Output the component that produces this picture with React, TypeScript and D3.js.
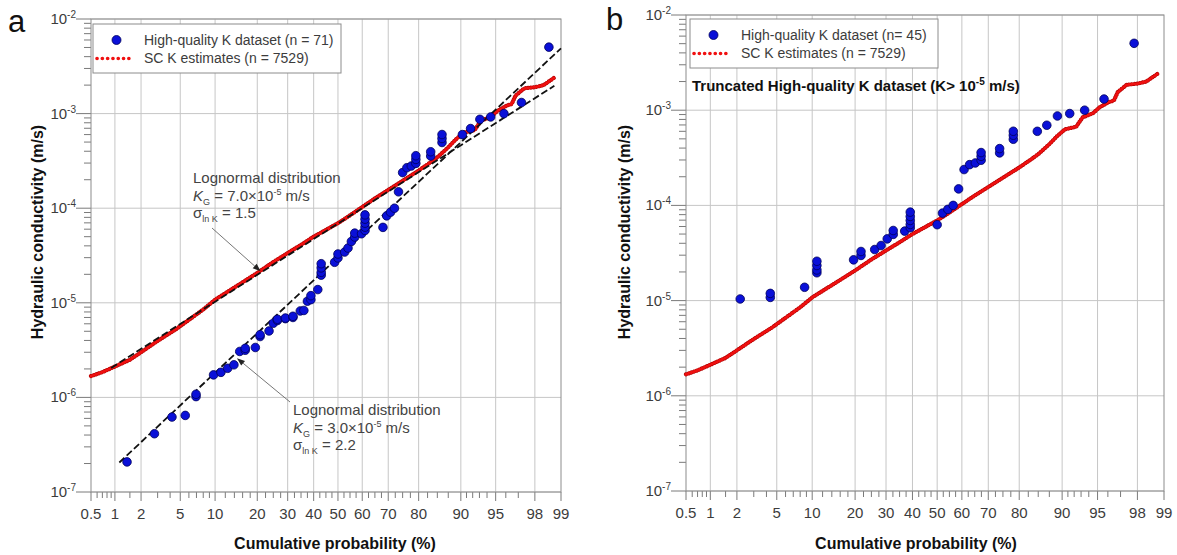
import React from 'react';
import * as d3 from 'd3';

// ---------- DATA ----------
// SC K estimates (n = 7529): cumulative probability (%) and K (m/s)
const scProb = [0.5, 0.7, 1, 1.5, 2, 3, 4.5, 6, 8, 10, 15, 20, 25, 30, 35, 40, 45, 50, 55, 60, 65, 70, 75, 80, 83, 85, 87.5, 89, 90.5, 92.3, 93.2, 94.5, 95.2, 96.1, 96.5, 96.8, 97.4, 98.0, 98.4, 98.8];
const scK = [1.68e-6, 1.85e-6, 2.12e-6, 2.5e-6, 3.0e-6, 3.95e-6, 5.2e-6, 6.6e-6, 8.5e-6, 1.08e-5, 1.55e-5, 2.07e-5, 2.7e-5, 3.36e-5, 4.1e-5, 5.0e-5, 5.9e-5, 6.95e-5, 8.4e-5, 1.03e-4, 1.27e-4, 1.56e-4, 1.95e-4, 2.5e-4, 3.0e-4, 3.45e-4, 4.4e-4, 5.3e-4, 6.3e-4, 6.7e-4, 8.4e-4, 9.3e-4, 1.07e-3, 1.22e-3, 1.26e-3, 1.55e-3, 1.85e-3, 1.9e-3, 2.0e-3, 2.4e-3];

// High-quality K dataset (n = 71), panel a
const hqProbA = [1.39, 2.78, 4.17, 5.56, 6.94, 6.94, 9.72, 11.11, 12.5, 13.89, 15.28, 16.67, 16.67, 19.44, 20.83, 20.83, 23.61, 25.0, 26.39, 26.39, 29.17, 29.17, 31.94, 31.94, 34.72, 36.11,
  37.5, 38.89, 38.89, 41.67, 43.06, 43.06, 43.06, 43.06, 48.61, 50.0, 50.0, 52.78, 54.17, 55.56, 56.94, 56.94, 59.72, 61.11, 61.11, 61.11, 61.11, 61.11, 68.06, 69.44, 70.83, 72.22, 73.61, 75.0, 76.39, 77.78, 79.17, 79.17, 79.17, 83.33, 83.33, 86.11, 86.11, 86.11, 90.28, 91.67, 93.06, 94.44, 95.83, 97.22, 98.61];
const hqKA = [2.08e-7, 4.13e-7, 6.2e-7, 6.45e-7, 1.02e-6, 1.08e-6, 1.73e-6, 1.84e-6, 2.03e-6, 2.21e-6, 3.06e-6, 3.15e-6, 3.3e-6, 3.37e-6, 4.4e-6, 4.6e-6, 5.04e-6, 6.08e-6, 6.5e-6, 6.7e-6, 6.8e-6, 6.9e-6, 7.0e-6, 7.2e-6, 8.2e-6, 8.3e-6,
  1.04e-5, 1.08e-5, 1.19e-5, 1.38e-5, 1.96e-5, 2.1e-5, 2.34e-5, 2.59e-5, 2.68e-5, 2.98e-5, 3.28e-5, 3.44e-5, 3.79e-5, 4.45e-5, 4.96e-5, 5.45e-5, 5.37e-5, 5.82e-5, 6.31e-5, 6.95e-5, 7.66e-5, 8.5e-5, 6.27e-5, 8.3e-5, 9.08e-5, 1.0e-4, 1.49e-4, 2.38e-4, 2.68e-4, 2.79e-4, 2.98e-4, 3.28e-4, 3.59e-4, 3.56e-4, 3.95e-4, 4.95e-4, 5.46e-4, 6.01e-4, 6.0e-4, 6.95e-4, 8.7e-4, 9.22e-4, 1.0e-3, 1.31e-3, 5.04e-3];

// Truncated high-quality K dataset (n = 45), panel b
const hqProbB = [2.17, 4.35, 4.35, 8.7, 10.87, 10.87, 10.87, 10.87, 19.57, 21.74, 21.74, 26.09, 28.26, 30.43, 32.61, 32.61, 36.96, 39.13, 39.13, 39.13, 39.13, 39.13, 50.0, 52.17, 54.35, 56.52, 58.7, 60.87, 63.04, 65.22, 67.39, 67.39, 67.39, 73.91, 73.91, 78.26, 78.26, 78.26, 84.78, 86.96, 89.13, 91.3, 93.48, 95.65, 97.83];
const hqKB = [1.04e-5, 1.08e-5, 1.19e-5, 1.38e-5, 1.96e-5, 2.1e-5, 2.34e-5, 2.59e-5, 2.68e-5, 2.98e-5, 3.28e-5, 3.44e-5, 3.79e-5, 4.45e-5, 4.96e-5, 5.45e-5, 5.37e-5, 5.82e-5, 6.31e-5, 6.95e-5, 7.66e-5, 8.5e-5, 6.27e-5, 8.3e-5, 9.08e-5, 1.0e-4, 1.49e-4, 2.38e-4, 2.68e-4, 2.79e-4, 2.98e-4, 3.28e-4, 3.59e-4, 3.56e-4, 3.95e-4, 4.95e-4, 5.46e-4, 6.01e-4, 6.0e-4, 6.95e-4, 8.7e-4, 9.22e-4, 1.0e-3, 1.31e-3, 5.04e-3];

// Fitted lognormal lines (end points: probability %, K)
const fitSCProb = [0.9, 98.8];
const fitSCK = [2.05e-6, 1.97e-3];
const fitHQProb = [1.13, 99.0];
const fitHQK = [2.05e-7, 4.9e-3];

// Axis ticks
const probTicks = [0.5, 1, 2, 5, 10, 20, 30, 40, 50, 60, 70, 80, 90, 95, 98, 99];
const probTickLabels = ['0.5', '1', '2', '5', '10', '20', '30', '40', '50', '60', '70', '80', '90', '95', '98', '99'];
const gridProbs = [1, 2, 5, 10, 20, 30, 40, 50, 60, 70, 80, 90, 95, 98];
const minorProbs = [0.6, 0.7, 0.8, 0.9, 1.5, 3, 4, 6, 7, 8, 9, 12, 14, 16, 18, 22.5, 25, 27.5, 32.5, 35, 37.5, 42.5, 45, 47.5, 52.5, 55, 57.5, 62.5, 65, 67.5, 72.5, 75, 77.5, 82.5, 85, 87.5, 91, 92, 93, 94, 96, 97];
const decadeExps = [-7, -6, -5, -4, -3, -2];
const minorMult = [2, 3, 4, 5, 6, 7, 8, 9];

// ---------- helpers ----------
function normInv(p: number): number {
  const a = [-3.969683028665376e1, 2.209460984245205e2, -2.759285104469687e2, 1.38357751867269e2, -3.066479806614716e1, 2.506628277459239];
  const b = [-5.447609879822406e1, 1.615858368580409e2, -1.556989798598866e2, 6.680131188771972e1, -1.328068155288572e1];
  const c = [-7.784894002430293e-3, -3.223964580411365e-1, -2.400758277161838, -2.549671665685823, 4.374664141464968, 2.938163982698783];
  const d = [7.784695709041462e-3, 3.224671290700398e-1, 2.445134137142996, 3.754408661907416];
  const pl = 0.02425;
  let q: number, r: number;
  if (p < pl) {
    q = Math.sqrt(-2 * Math.log(p));
    return (((((c[0] * q + c[1]) * q + c[2]) * q + c[3]) * q + c[4]) * q + c[5]) / ((((d[0] * q + d[1]) * q + d[2]) * q + d[3]) * q + 1);
  }
  if (p <= 1 - pl) {
    q = p - 0.5; r = q * q;
    return (((((a[0] * r + a[1]) * r + a[2]) * r + a[3]) * r + a[4]) * r + a[5]) * q / (((((b[0] * r + b[1]) * r + b[2]) * r + b[3]) * r + b[4]) * r + 1);
  }
  q = Math.sqrt(-2 * Math.log(1 - p));
  return -(((((c[0] * q + c[1]) * q + c[2]) * q + c[3]) * q + c[4]) * q + c[5]) / ((((d[0] * q + d[1]) * q + d[2]) * q + d[3]) * q + 1);
}

type Geom = { x0: number; x1: number; yTop: number; yBot: number };
const geomA: Geom = { x0: 91, x1: 561, yTop: 19, yBot: 492 };
const geomB: Geom = { x0: 686, x1: 1164, yTop: 15, yBot: 491 };

function makeScales(g: Geom) {
  const zx = d3.scaleLinear().domain([normInv(0.005), normInv(0.99)]).range([g.x0, g.x1]);
  const x = (p: number) => zx(normInv(p / 100));
  const y = d3.scaleLog().domain([1e-7, 1e-2]).range([g.yBot, g.yTop]);
  return { x, y };
}

const FONT = "'Liberation Sans', Arial, Helvetica, sans-serif";
const GRID = '#c6c6c6';
const FRAME = '#8c8c8c';
const TICK = '#7a7a7a';
const LABEL = '#3c3c3c';
const RED = '#f01010';
const BLUE = '#0a10d8';

function Axes({ g, xTitleX, yTitleX }: { g: Geom; xTitleX: number; yTitleX: number }) {
  const { x, y } = makeScales(g);
  return (
    <g>
      {gridProbs.map((p) => (
        <line key={'gx' + p} x1={x(p)} x2={x(p)} y1={g.yTop} y2={g.yBot} stroke={GRID} strokeWidth={1} />
      ))}
      {decadeExps.map((e) => (
        <line key={'gy' + e} x1={g.x0} x2={g.x1} y1={y(Math.pow(10, e))} y2={y(Math.pow(10, e))} stroke={GRID} strokeWidth={1} />
      ))}
      {/* x ticks below axis */}
      {probTicks.map((p) => (
        <line key={'tx' + p} x1={x(p)} x2={x(p)} y1={g.yBot} y2={g.yBot + 9} stroke={TICK} strokeWidth={1} />
      ))}
      {minorProbs.map((p) => (
        <line key={'mx' + p} x1={x(p)} x2={x(p)} y1={g.yBot} y2={g.yBot + 6} stroke={TICK} strokeWidth={1} />
      ))}
      {/* y ticks left of axis */}
      {decadeExps.map((e) => (
        <line key={'ty' + e} x1={g.x0 - 15} x2={g.x0} y1={y(Math.pow(10, e))} y2={y(Math.pow(10, e))} stroke={TICK} strokeWidth={1} />
      ))}
      {decadeExps.slice(0, 5).map((e) =>
        minorMult.map((m) => (
          <line key={'my' + e + m} x1={g.x0 - 7} x2={g.x0} y1={y(m * Math.pow(10, e))} y2={y(m * Math.pow(10, e))} stroke={TICK} strokeWidth={1} />
        ))
      )}
      <rect x={g.x0} y={g.yTop} width={g.x1 - g.x0} height={g.yBot - g.yTop} fill="none" stroke={FRAME} strokeWidth={1} />
      {probTicks.map((p, i) => (
        <text key={'lx' + p} x={x(p)} y={g.yBot + 27} textAnchor="middle" fontSize={15} fill={LABEL} fontFamily={FONT}>
          {probTickLabels[i]}
        </text>
      ))}
      {decadeExps.map((e) => (
        <text key={'ly' + e} x={g.x0 - 15} y={y(Math.pow(10, e)) + 5} textAnchor="end" fontSize={15} fill={LABEL} fontFamily={FONT}>
          <tspan>10</tspan>
          <tspan dy={-6} fontSize={10}>{String(e)}</tspan>
        </text>
      ))}
      <text x={xTitleX} y={549} textAnchor="middle" fontSize={16} fontWeight="bold" fill="#111" fontFamily={FONT}>
        Cumulative probability (%)
      </text>
      <text transform={`translate(${yTitleX},232) rotate(-90)`} textAnchor="middle" dy="0.35em" fontSize={16} fontWeight="bold" fill="#111" fontFamily={FONT}>
        Hydraulic conductivity (m/s)
      </text>
    </g>
  );
}

function RedCurve({ g }: { g: Geom }) {
  const { x, y } = makeScales(g);
  const pts = scProb.map((p, i) => [x(p), y(scK[i])] as [number, number]);
  const line = d3.line();
  return (
    <g>
      <path d={line(pts) || ''} fill="none" stroke="#b00000" strokeWidth={4.2} strokeDasharray="0.1 2.7" strokeLinecap="round" />
      <path d={line(pts) || ''} fill="none" stroke={RED} strokeWidth={3} strokeDasharray="0.1 2.7" strokeLinecap="round" />
    </g>
  );
}

function FitLine({ g, probs, ks }: { g: Geom; probs: number[]; ks: number[] }) {
  const { x, y } = makeScales(g);
  return <line x1={x(probs[0])} y1={y(ks[0])} x2={x(probs[1])} y2={y(ks[1])} stroke="#111" strokeWidth={1.8} strokeDasharray="7 3" />;
}

function Dots({ g, probs, ks }: { g: Geom; probs: number[]; ks: number[] }) {
  const { x, y } = makeScales(g);
  return (
    <g>
      {probs.map((p, i) => (
        <circle key={i} cx={x(p)} cy={y(ks[i])} r={4.3} fill={BLUE} stroke="#00005a" strokeWidth={0.8} />
      ))}
    </g>
  );
}

function Legend({ bx, by, bw, bh, n }: { bx: number; by: number; bw: number; bh: number; n: string }) {
  return (
    <g fontFamily={FONT} fontSize={14} fill={LABEL}>
      <rect x={bx} y={by} width={bw} height={bh} fill="#fff" stroke={FRAME} strokeWidth={1} />
      <circle cx={bx + 23.5} cy={by + 16} r={4.5} fill={BLUE} stroke="#00005a" strokeWidth={0.8} />
      <text x={bx + 51} y={by + 21}>{n}</text>
      <line x1={bx + 4} x2={bx + 40} y1={by + 34.5} y2={by + 34.5} stroke={RED} strokeWidth={3.6} strokeDasharray="0.1 5.2" strokeLinecap="round" />
      <text x={bx + 51} y={by + 39}>SC K estimates (n = 7529)</text>
    </g>
  );
}

function Annotation({ tx, ty, kg, sigma }: { tx: number; ty: number; kg: string; sigma: string }) {
  return (
    <g fontFamily={FONT} fontSize={15} fill="#444">
      <text x={tx} y={ty}>Lognormal distribution</text>
      <text x={tx} y={ty + 18}>
        <tspan fontStyle="italic">K</tspan>
        <tspan dy={4} fontSize={9}>G</tspan>
        <tspan dy={-4}>{` = ${kg}×10`}</tspan>
        <tspan dy={-6} fontSize={9}>-5</tspan>
        <tspan dy={6}> m/s</tspan>
      </text>
      <text x={tx} y={ty + 35}>
        <tspan>σ</tspan>
        <tspan dy={4} fontSize={9}>ln K</tspan>
        <tspan dy={-4}>{` = ${sigma}`}</tspan>
      </text>
    </g>
  );
}

function Arrow({ x1, y1, x2, y2 }: { x1: number; y1: number; x2: number; y2: number }) {
  const ang = Math.atan2(y2 - y1, x2 - x1);
  const L = 8, Wd = 3;
  const bx = x2 - L * Math.cos(ang), by = y2 - L * Math.sin(ang);
  const px = -Math.sin(ang) * Wd, py = Math.cos(ang) * Wd;
  return (
    <g>
      <line x1={x1} y1={y1} x2={bx} y2={by} stroke="#666" strokeWidth={0.9} />
      <path d={`M${x2},${y2}L${bx + px},${by + py}L${bx - px},${by - py}Z`} fill="#222" />
    </g>
  );
}

export default function App() {
  const sa = makeScales(geomA);
  const tip1 = [sa.x(21), sa.y(2.15e-5)];
  const tip2 = [sa.x(14.6), sa.y(2.6e-6)];
  return (
    <svg width={1177} height={555} style={{ position: 'absolute', left: 0, top: 0, background: '#fff' }} fontFamily={FONT}>
      <rect x={0} y={0} width={1177} height={555} fill="#fff" />
      {/* Panel a */}
      <text x={8} y={32} fontSize={31} fill="#111" fontFamily={FONT}>a</text>
      <Axes g={geomA} xTitleX={335} yTitleX={37} />
      <RedCurve g={geomA} />
      <FitLine g={geomA} probs={fitSCProb} ks={fitSCK} />
      <FitLine g={geomA} probs={fitHQProb} ks={fitHQK} />
      <Dots g={geomA} probs={hqProbA} ks={hqKA} />
      <Legend bx={93} by={24} bw={248} bh={49} n="High-quality K dataset (n = 71)" />
      <Annotation tx={193} ty={183} kg="7.0" sigma="1.5" />
      <Arrow x1={212} y1={228} x2={tip1[0]} y2={tip1[1]} />
      <Annotation tx={293} ty={415} kg="3.0" sigma="2.2" />
      <Arrow x1={290} y1={402} x2={tip2[0]} y2={tip2[1]} />

      {/* Panel b */}
      <text x={606} y={30} fontSize={31} fill="#111" fontFamily={FONT}>b</text>
      <Axes g={geomB} xTitleX={916} yTitleX={624} />
      <RedCurve g={geomB} />
      <Dots g={geomB} probs={hqProbB} ks={hqKB} />
      <Legend bx={690} by={19} bw={248} bh={49} n="High-quality K dataset (n= 45)" />
      <text x={692} y={91} fontSize={15} fontWeight="bold" fill="#111" fontFamily={FONT}>
        <tspan>Truncated High-quality K dataset (K&gt; 10</tspan>
        <tspan dy={-6} fontSize={10}>-5</tspan>
        <tspan dy={6}> m/s)</tspan>
      </text>
    </svg>
  );
}
